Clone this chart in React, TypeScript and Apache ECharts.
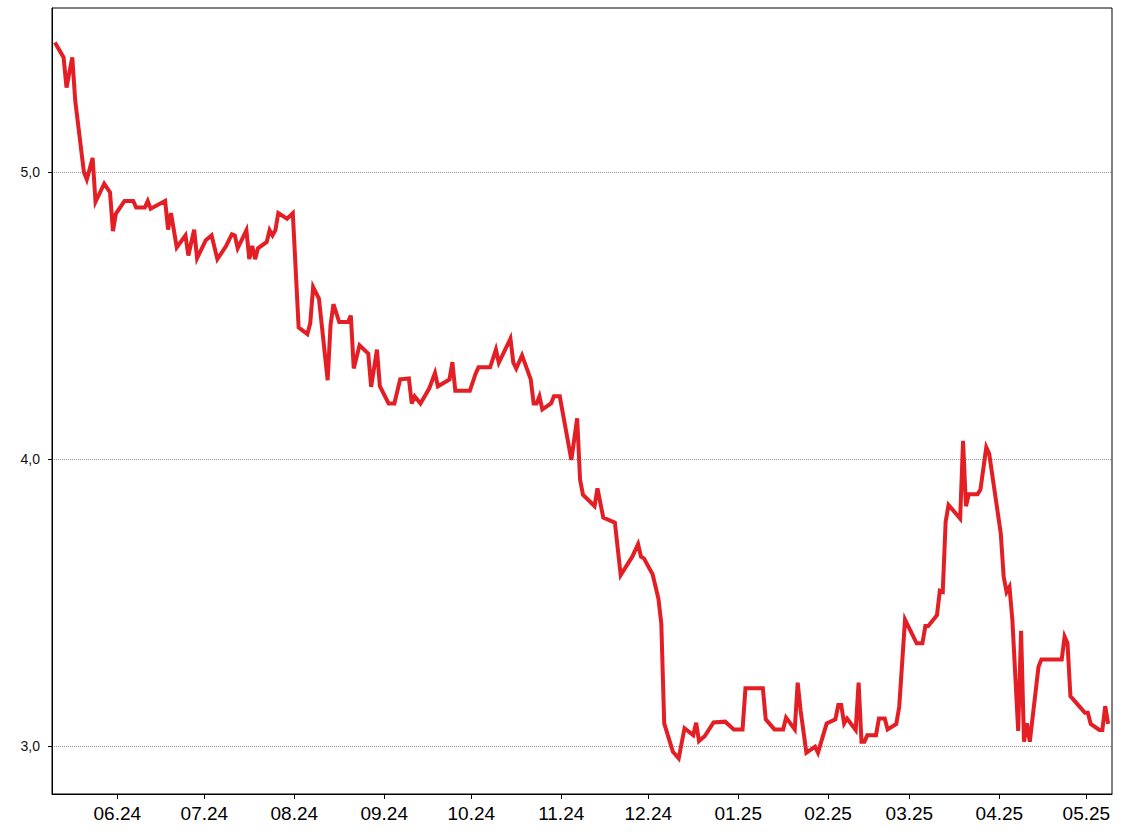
import React, { useEffect, useRef } from "react";
import * as echarts from "echarts";

const dates = [
  "2024-05-10", "2024-05-13", "2024-05-14", "2024-05-16", "2024-05-17", "2024-05-20", "2024-05-21", "2024-05-23", "2024-05-24", "2024-05-27", "2024-05-29", "2024-05-30", "2024-05-31",
  "2024-06-03", "2024-06-06", "2024-06-07", "2024-06-10", "2024-06-11", "2024-06-12", "2024-06-17", "2024-06-18", "2024-06-19", "2024-06-21", "2024-06-24", "2024-06-25", "2024-06-27", "2024-06-28",
  "2024-07-01", "2024-07-03", "2024-07-05", "2024-07-08", "2024-07-10", "2024-07-11", "2024-07-12", "2024-07-15", "2024-07-16", "2024-07-17", "2024-07-18", "2024-07-19", "2024-07-22", "2024-07-23", "2024-07-24", "2024-07-25", "2024-07-26", "2024-07-29", "2024-07-31",
  "2024-08-02", "2024-08-05", "2024-08-06", "2024-08-07", "2024-08-09", "2024-08-12", "2024-08-13", "2024-08-14", "2024-08-16", "2024-08-19", "2024-08-20", "2024-08-21", "2024-08-23", "2024-08-26", "2024-08-27", "2024-08-29", "2024-08-30",
  "2024-09-02", "2024-09-04", "2024-09-06", "2024-09-09", "2024-09-10", "2024-09-11", "2024-09-13", "2024-09-16", "2024-09-18", "2024-09-19", "2024-09-23", "2024-09-24", "2024-09-25", "2024-09-30",
  "2024-10-02", "2024-10-03", "2024-10-07", "2024-10-09", "2024-10-10", "2024-10-14", "2024-10-15", "2024-10-16", "2024-10-18", "2024-10-21", "2024-10-22", "2024-10-23", "2024-10-24", "2024-10-25", "2024-10-28", "2024-10-29", "2024-10-31",
  "2024-11-04", "2024-11-06", "2024-11-07", "2024-11-08", "2024-11-12", "2024-11-13", "2024-11-15", "2024-11-19", "2024-11-21", "2024-11-25", "2024-11-27", "2024-11-28", "2024-11-29",
  "2024-12-02", "2024-12-04", "2024-12-05", "2024-12-06", "2024-12-09", "2024-12-11", "2024-12-13", "2024-12-16", "2024-12-17", "2024-12-18", "2024-12-20", "2024-12-23", "2024-12-27", "2024-12-30",
  "2025-01-02", "2025-01-03", "2025-01-09", "2025-01-10", "2025-01-13", "2025-01-16", "2025-01-17", "2025-01-20", "2025-01-21", "2025-01-22", "2025-01-24", "2025-01-27", "2025-01-28", "2025-01-31",
  "2025-02-03", "2025-02-04", "2025-02-05", "2025-02-06", "2025-02-07", "2025-02-10", "2025-02-11", "2025-02-12", "2025-02-13", "2025-02-14", "2025-02-17", "2025-02-18", "2025-02-20", "2025-02-21", "2025-02-24", "2025-02-25", "2025-02-27",
  "2025-03-03", "2025-03-05", "2025-03-06", "2025-03-07", "2025-03-10", "2025-03-11", "2025-03-12", "2025-03-13", "2025-03-14", "2025-03-18", "2025-03-19", "2025-03-20", "2025-03-21", "2025-03-24", "2025-03-25", "2025-03-27", "2025-03-28",
  "2025-04-01", "2025-04-02", "2025-04-03", "2025-04-04", "2025-04-05", "2025-04-07", "2025-04-08", "2025-04-09", "2025-04-10", "2025-04-11", "2025-04-14", "2025-04-15", "2025-04-22", "2025-04-23", "2025-04-24", "2025-04-25", "2025-04-28", "2025-04-30",
  "2025-05-01", "2025-05-02", "2025-05-05", "2025-05-06", "2025-05-07", "2025-05-08",
];

const values = [
  5.452, 5.4, 5.295, 5.4, 5.25, 5.0, 4.975, 5.05, 4.897, 4.96, 4.93, 4.795, 4.855,
  4.9, 4.9, 4.877, 4.877, 4.9, 4.873, 4.9, 4.8, 4.858, 4.738, 4.78, 4.71, 4.8, 4.7,
  4.763, 4.78, 4.697, 4.743, 4.784, 4.78, 4.735, 4.798, 4.697, 4.743, 4.697, 4.735, 4.757, 4.798, 4.78, 4.798, 4.858, 4.838, 4.857,
  4.459, 4.436, 4.473, 4.6, 4.56, 4.275, 4.467, 4.54, 4.478, 4.478, 4.5, 4.316, 4.397, 4.368, 4.252, 4.382, 4.254,
  4.194, 4.194, 4.278, 4.281, 4.194, 4.219, 4.194, 4.246, 4.3, 4.254, 4.278, 4.338, 4.238, 4.238,
  4.298, 4.32, 4.32, 4.382, 4.336, 4.42, 4.336, 4.316, 4.362, 4.278, 4.194, 4.194, 4.219, 4.173, 4.194, 4.219, 4.219,
  3.997, 4.142, 3.929, 3.876, 3.836, 3.898, 3.796, 3.779, 3.596, 3.66, 3.704, 3.66, 3.654,
  3.599, 3.514, 3.427, 3.079, 2.98, 2.957, 3.062, 3.038, 3.081, 3.017, 3.035, 3.082, 3.085, 3.058,
  3.058, 3.201, 3.201, 3.093, 3.058, 3.058, 3.099, 3.058, 3.221, 3.125, 2.977, 2.998, 2.977, 3.079,
  3.093, 3.143, 3.143, 3.079, 3.096, 3.056, 3.221, 3.015, 3.015, 3.038, 3.038, 3.096, 3.096, 3.058, 3.077, 3.137, 3.441,
  3.358, 3.358, 3.418, 3.418, 3.456, 3.541, 3.537, 3.782, 3.84, 3.793, 4.064, 3.836, 3.878, 3.878, 3.894, 4.041, 4.019,
  3.741, 3.59, 3.537, 3.555, 3.439, 3.053, 3.402, 3.015, 3.079, 3.015, 3.276, 3.302, 3.302, 3.381, 3.358, 3.174, 3.139, 3.116,
  3.116, 3.077, 3.056, 3.056, 3.139, 3.077,
];

const monthTicks = [
  "2024-06-01", "2024-07-01", "2024-08-01", "2024-09-01", "2024-10-01", "2024-11-01",
  "2024-12-01", "2025-01-01", "2025-02-01", "2025-03-01", "2025-04-01", "2025-05-01",
];

const yTicks = [3, 4, 5];

const FONT = "'Liberation Sans', Arial, Helvetica, sans-serif";

function ts(s: string, hour = 0): number {
  const [y, m, d] = s.split("-").map(Number);
  return new Date(y, m - 1, d, hour).getTime();
}

export default function App() {
  const ref = useRef<HTMLDivElement>(null);

  useEffect(() => {
    if (!ref.current) return;
    const chart = echarts.init(ref.current, null, { renderer: "svg" });
    const monthTs = monthTicks.map((s) => ts(s));
    const xMin = new Date(2024, 4, 9, 12).getTime();
    const xMax = new Date(2025, 4, 9, 20).getTime();

    chart.setOption({
      animation: false,
      backgroundColor: "#ffffff",
      grid: {
        left: 52,
        right: 16,
        top: 8,
        bottom: 42,
        show: true,
        borderColor: "#000",
        borderWidth: 1,
        backgroundColor: "transparent",
      },
      xAxis: {
        type: "value",
        min: xMin,
        max: xMax,
        scale: true,
        axisLine: { show: true, lineStyle: { color: "#000", width: 1 } },
        axisTick: {
          show: true,
          customValues: monthTs,
          length: 5,
          lineStyle: { color: "#000", width: 1 },
        },
        axisLabel: {
          customValues: monthTs,
          formatter: (v: number) => {
            const d = new Date(v);
            const mm = String(d.getMonth() + 1).padStart(2, "0");
            const yy = String(d.getFullYear() % 100).padStart(2, "0");
            return mm + "." + yy;
          },
          fontSize: 19,
          color: "#000",
          fontFamily: FONT,
          margin: 10,
        },
        splitLine: { show: false },
      },
      yAxis: {
        type: "value",
        min: 2.8328,
        max: 5.5725,
        axisLine: { show: true, lineStyle: { color: "#000", width: 1 } },
        axisTick: {
          show: true,
          customValues: yTicks,
          length: 4,
          lineStyle: { color: "#000", width: 1 },
        },
        axisLabel: {
          customValues: yTicks,
          formatter: (v: number) => v.toFixed(1).replace(".", ","),
          fontSize: 14,
          color: "#111",
          fontFamily: FONT,
          margin: 12,
        },
        splitLine: {
          show: true,
          showMinLine: true,
          showMaxLine: true,
          lineStyle: { color: "#999", width: 1, type: [1, 1] },
        },
      },
      series: [
        {
          type: "line",
          data: dates.map((d, i) => [ts(d, 12), values[i]]),
          showSymbol: false,
          symbol: "none",
          lineStyle: { color: "#e31e24", width: 4, join: "miter", miterLimit: 4 },
          silent: true,
        },
      ],
    });

    return () => chart.dispose();
  }, []);

  return (
    <div
      ref={ref}
      style={{ position: "absolute", left: 0, top: 0, width: 1128, height: 836, background: "#fff" }}
    />
  );
}
